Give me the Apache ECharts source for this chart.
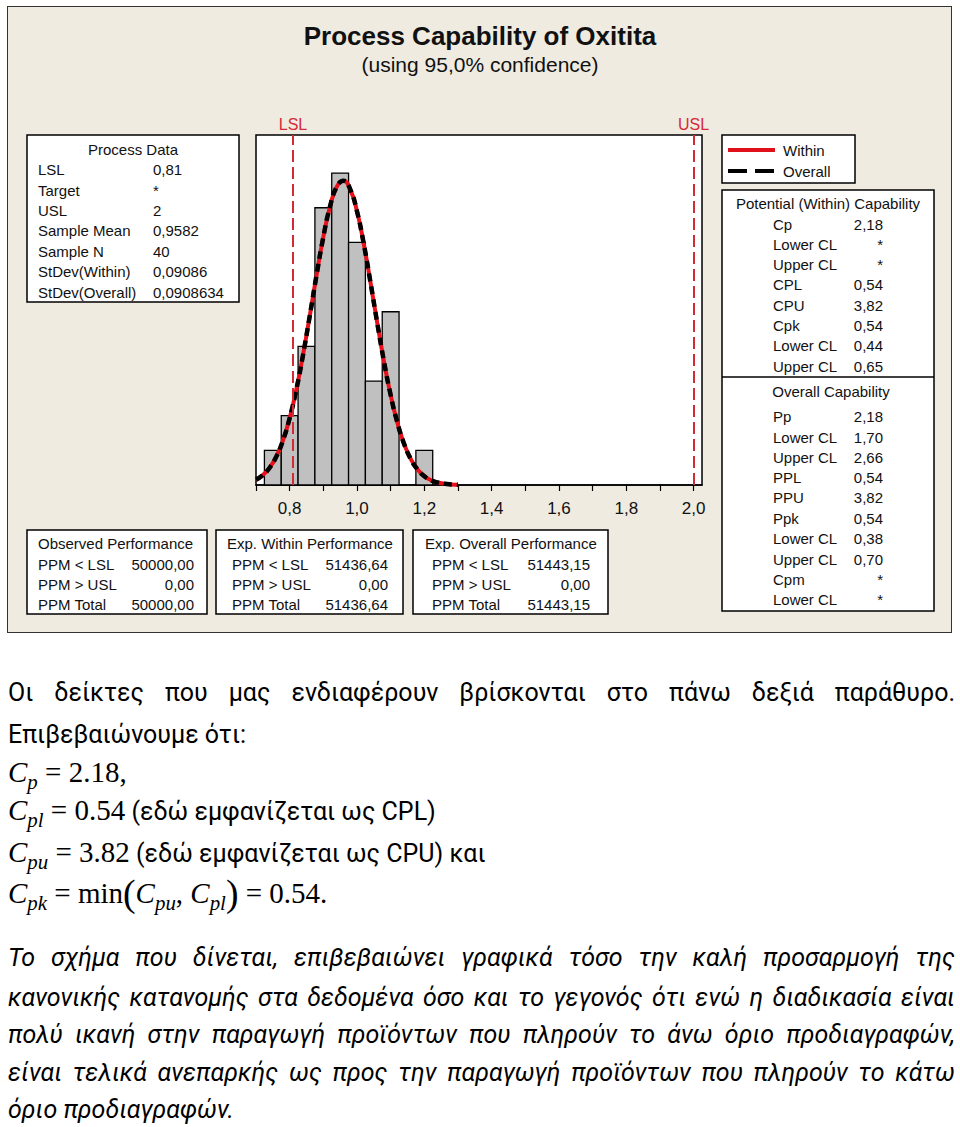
<!DOCTYPE html>
<html><head><meta charset="utf-8">
<script src="https://cdn.jsdelivr.net/npm/echarts@6/dist/echarts.min.js"></script>
<style>
html,body{margin:0;padding:0;background:#fff;width:960px;height:1127px;overflow:hidden}
#frame{position:absolute;left:7px;top:6px;width:945px;height:627px;background:#EFEBE1;border:1px solid #333;box-sizing:border-box}
#chart{position:absolute;left:0;top:0;width:960px;height:640px}
.ln{position:absolute;left:8px;width:947px;height:40px;line-height:40px;font-family:Roboto,'Noto Sans',sans-serif;font-size:25px;color:#000;white-space:nowrap}
.j{text-align:justify;text-align-last:justify;white-space:normal}
.it{font-style:italic}
.m{font-family:'Liberation Serif','DejaVu Serif',serif;font-size:29px}
.m sub{font-size:0.72em;vertical-align:-0.32em;line-height:0}
.big{font-size:1.3em;line-height:0;vertical-align:-0.08em}
</style></head>
<body>
<div id="frame"></div>
<div id="chart"></div>
<div class="ln j" style="top:673px">Οι δείκτες που μας ενδιαφέρουν βρίσκονται στο πάνω δεξιά παράθυρο.</div>
<div class="ln" style="top:715px">Επιβεβαιώνουμε ότι:</div>
<div class="ln" style="top:752px"><span class="m"><i>C</i><sub><i>p</i></sub> = 2.18,</span></div>
<div class="ln" style="top:790px"><span class="m"><i>C</i><sub><i>pl</i></sub> = 0.54</span> (εδώ εμφανίζεται ως CPL)</div>
<div class="ln" style="top:832px"><span class="m"><i>C</i><sub><i>pu</i></sub> = 3.82</span> (εδώ εμφανίζεται ως CPU) και</div>
<div class="ln" style="top:873px"><span class="m"><i>C</i><sub><i>pk</i></sub> = min<span class="big">(</span><i>C</i><sub><i>pu</i></sub>, <i>C</i><sub><i>pl</i></sub><span class="big">)</span> = 0.54.</span></div>
<div class="ln j it" style="top:938px">Το σχήμα που δίνεται, επιβεβαιώνει γραφικά τόσο την καλή προσαρμογή της</div>
<div class="ln j it" style="top:978px">κανονικής κατανομής στα δεδομένα όσο και το γεγονός ότι ενώ η διαδικασία είναι</div>
<div class="ln j it" style="top:1015px">πολύ ικανή στην παραγωγή προϊόντων που πληρούν το άνω όριο προδιαγραφών,</div>
<div class="ln j it" style="top:1053px">είναι τελικά ανεπαρκής ως προς την παραγωγή προϊόντων που πληρούν το κάτω</div>
<div class="ln it" style="top:1090px">όριο προδιαγραφών.</div>
<script>
// keep justified lines on one line
document.querySelectorAll('.ln.j').forEach(el => {
  let fs = 25;
  while (el.scrollHeight > 44 && fs > 16) { fs -= 0.5; el.style.fontSize = fs + 'px'; }
});

// ---- data ----
const binCenters = [0.75, 0.80, 0.85, 0.90, 0.95, 1.00, 1.05, 1.10, 1.15, 1.20];
const binCounts  = [1, 2, 4, 8, 9, 7, 3, 5, 0, 1];
const binWidth = 0.05;
const curveX = [0.70,0.72,0.74,0.76,0.78,0.80,0.82,0.84,0.86,0.88,0.90,0.92,0.94,0.96,0.98,1.00,1.02,1.04,1.06,1.08,1.10,1.12,1.14,1.16,1.18,1.20,1.22,1.24,1.26,1.28,1.30];
const withinFit  = [0.155,0.283,0.491,0.813,1.283,1.929,2.762,3.768,4.897,6.064,7.153,8.039,8.607,8.780,8.532,7.900,6.968,5.856,4.688,3.576,2.598,1.799,1.186,0.745,0.446,0.255,0.138,0.072,0.035,0.017,0.007];
const overallFit = [0.155,0.283,0.491,0.813,1.283,1.929,2.762,3.768,4.897,6.064,7.153,8.039,8.607,8.780,8.532,7.900,6.968,5.856,4.688,3.576,2.598,1.799,1.186,0.745,0.446,0.255,0.138,0.072,0.035,0.017,0.007];
const LSL = 0.81, USL = 2.0;
const titleText = 'Process Capability of Oxitita';
const subtitleText = '(using 95,0% confidence)';
const processData = [['LSL','0,81'],['Target','*'],['USL','2'],['Sample Mean','0,9582'],['Sample N','40'],['StDev(Within)','0,09086'],['StDev(Overall)','0,0908634']];
const observedPerf = [['PPM < LSL','50000,00'],['PPM > USL','0,00'],['PPM Total','50000,00']];
const withinPerf   = [['PPM < LSL','51436,64'],['PPM > USL','0,00'],['PPM Total','51436,64']];
const overallPerf  = [['PPM < LSL','51443,15'],['PPM > USL','0,00'],['PPM Total','51443,15']];
const withinCap  = [['Cp','2,18'],['Lower CL','*'],['Upper CL','*'],['CPL','0,54'],['CPU','3,82'],['Cpk','0,54'],['Lower CL','0,44'],['Upper CL','0,65']];
const overallCap = [['Pp','2,18'],['Lower CL','1,70'],['Upper CL','2,66'],['PPL','0,54'],['PPU','3,82'],['Ppk','0,54'],['Lower CL','0,38'],['Upper CL','0,70'],['Cpm','*'],['Lower CL','*']];

// ---- graphics helpers ----
const FONT = '"Liberation Sans", Arial, sans-serif';
const G = [];
function box(x, y, w, h) {
  G.push({type:'rect', z:1, shape:{x, y, width:w, height:h}, style:{fill:'#fff', stroke:'#000', lineWidth:1.5}});
}
function txt(x, y, s, align, size, extra) {
  G.push({type:'text', z:2, x, y, style:Object.assign({text:s, fill:'#111', font:(size||15)+'px '+FONT,
    textAlign:align||'left', align:align||'left', textVerticalAlign:'middle', verticalAlign:'middle'}, extra||{})});
}
function line(x1, y1, x2, y2, stroke, lw, dash) {
  G.push({type:'line', z:2, shape:{x1, y1, x2, y2}, style:{stroke, lineWidth:lw, lineDash:dash||null}});
}

txt(480, 36, titleText, 'center', 26, {font:'bold 26px '+FONT});
txt(480, 64, subtitleText, 'center', 21);

// Process data
box(27, 135, 212, 167);
txt(133, 149, 'Process Data', 'center');
const pdY = [169, 190, 210, 230, 251, 271, 292];
processData.forEach((r, i) => { txt(38, pdY[i], r[0]); txt(153, pdY[i], r[1]); });

// Performance boxes
const perfY = [564, 584, 604];
function perf(bx, bw, hx, lx, vx, title, rows) {
  box(bx, 530, bw, 84);
  txt(hx, 543, title);
  rows.forEach((r, i) => { txt(lx, perfY[i], r[0]); txt(vx, perfY[i], r[1], 'right'); });
}
perf(27, 180, 38, 38, 194, 'Observed Performance', observedPerf);
perf(216, 187, 227, 232, 388, 'Exp. Within Performance', withinPerf);
perf(413, 195, 425, 432, 590, 'Exp. Overall Performance', overallPerf);

// Legend
box(722, 135, 133, 48);
line(728, 150, 775, 150, '#E0101A', 4);
line(728, 171, 775, 171, '#000', 4, [19, 8]);
txt(783, 150, 'Within');
txt(783, 171, 'Overall');

// Capability
box(722, 190, 212, 421);
line(722, 377, 934, 377, '#000', 1.5);
txt(828, 203, 'Potential (Within) Capability', 'center');
const wcY = [224, 244, 264, 284, 305, 325, 345, 366];
withinCap.forEach((r, i) => { txt(773, wcY[i], r[0]); txt(883, wcY[i], r[1], 'right'); });
txt(831, 391, 'Overall Capability', 'center');
const ocY = [416, 437, 457, 477, 497, 518, 538, 559, 579, 599];
overallCap.forEach((r, i) => { txt(773, ocY[i], r[0]); txt(883, ocY[i], r[1], 'right'); });

// ---- chart ----
const chart = echarts.init(document.getElementById('chart'), null, {renderer:'svg'});
chart.setOption({
  animation: false,
  grid: {left:256, top:135, width:446, height:350, show:true, backgroundColor:'#fff', borderColor:'#000', borderWidth:1.5},
  xAxis: {
    type:'value', min:0.7, max:2.025, interval:0.1,
    axisLine:{show:true, onZero:false, lineStyle:{color:'#000', width:1.5}},
    axisTick:{show:true, length:6, lineStyle:{color:'#000', width:1.2}},
    splitLine:{show:false},
    axisLabel:{margin:15, color:'#111', fontSize:17, fontFamily:'Liberation Sans, Arial, sans-serif',
      showMaxLabel:false,
      formatter: v => { const r = Math.round(v*10); if (Math.abs(v*10-r) > 1e-6 || r % 2) return ''; return (r/10).toFixed(1).replace('.', ','); }}
  },
  yAxis: {type:'value', min:0, max:10.1, show:false},
  graphic: {elements: G},
  series: [
    {
      type:'custom', z:2,
      data: binCenters.map((c, i) => [c, binCounts[i]]),
      renderItem: (params, api) => {
        const c = api.value(0), n = api.value(1);
        if (!n) return null;
        const p0 = api.coord([c - binWidth/2, n]);
        const p1 = api.coord([c + binWidth/2, 0]);
        return {type:'rect', shape:{x:p0[0], y:p0[1], width:p1[0]-p0[0], height:p1[1]-p0[1]},
          style:{fill:'#C0C0C0', stroke:'#000', lineWidth:1.3}};
      }
    },
    {
      type:'line', z:3, name:'Within', smooth:true, symbol:'none',
      data: curveX.map((x, i) => [x, withinFit[i]]),
      lineStyle:{color:'#E8101A', width:4},
      markLine: {
        silent:true, symbol:'none', z:5,
        lineStyle:{color:'#D42A35', type:[12,5], width:2},
        label:{show:true, position:'end', distance:3, color:'#D42A35', fontSize:16, fontFamily:'Liberation Sans, Arial, sans-serif'},
        data:[{xAxis:LSL, label:{formatter:'LSL'}}, {xAxis:USL, label:{formatter:'USL'}}]
      }
    },
    {
      type:'line', z:4, name:'Overall', smooth:true, symbol:'none',
      data: curveX.map((x, i) => [x, overallFit[i]]),
      lineStyle:{color:'#000', width:4.5, type:[8,5]}
    }
  ]
});
</script>
</body></html>
